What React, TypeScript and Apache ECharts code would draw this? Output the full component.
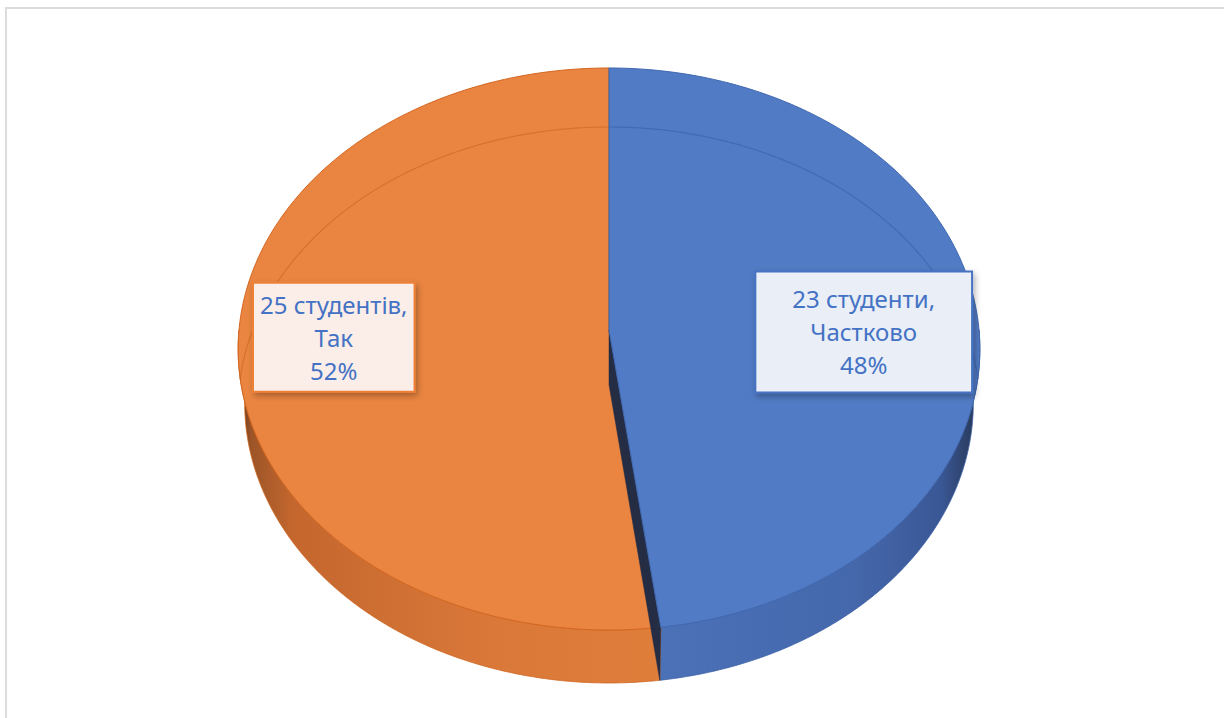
import React, { useEffect, useRef } from "react";
import * as echarts from "echarts";

// ---- data ----
const CATEGORIES = ["Частково", "Так"];
const VALUES = [23, 25];
const NOUNS = ["студенти", "студентів"];

// ---- styles ----
const TOP_COLORS = ["#517BC4", "#EA8541"];
const EDGE_COLORS = ["#3F67B0", "#D2651F"];
const BEVEL_COLORS = ["rgba(52,92,170,0.55)", "rgba(200,92,28,0.5)"];
const SIDE_STOPS = [
  [
    { offset: 0, color: "#4B71B7" },
    { offset: 0.6, color: "#4568AC" },
    { offset: 0.88, color: "#3A5795" },
    { offset: 0.97, color: "#2B3E63" },
    { offset: 1, color: "#23324F" },
  ],
  [
    { offset: 0, color: "#5A3016" },
    { offset: 0.03, color: "#9C5427" },
    { offset: 0.13, color: "#C4672E" },
    { offset: 0.6, color: "#DA7839" },
    { offset: 1, color: "#DF7D3B" },
  ],
];
const SIDE_EDGE = ["#3D62A8", "#CF671F"];
const CUT_COLOR = "#252D45";
const LABEL_FILL = ["#E9EEF7", "#FBEEE8"];
const LABEL_BORDER = ["#4773C2", "#EE8138"];
const LABEL_RADIUS = [0.692, 0.743];
const LABEL_DY = [14.5, -6.5];
const LABEL_PAD = [
  [10, 36],
  [4, 6],
];

// ---- perspective camera ----
const CX = 609;
const CY = 330;
const K = 3589;
const L = 9.7;
const SIN_PHI = 0.756;
const COS_PHI = 0.656;
const HEIGHT = 0.2295;
const BEVEL = 59;

const TOTAL = VALUES.reduce((a, b) => a + b, 0);

function proj(x: number, y: number, z: number): number[] {
  const d = L - y * SIN_PHI - z * COS_PHI;
  return [CX + (K * x) / d, CY - (K * (y * COS_PHI - z * SIN_PHI)) / d];
}

function rim(deg: number, y = 0, r = 1): number[] {
  const t = (deg * Math.PI) / 180;
  return proj(r * Math.sin(t), y, -r * Math.cos(t));
}

function arc(from: number, to: number, y = 0, dy = 0): number[][] {
  const pts: number[][] = [];
  const n = Math.max(2, Math.ceil(Math.abs(to - from) / 0.5));
  for (let k = 0; k <= n; k++) {
    const p = rim(from + ((to - from) * k) / n, y);
    pts.push([p[0], p[1] + dy]);
  }
  return pts;
}

function renderItem(params: any, api: any) {
  const i = params.dataIndex;
  const v = api.value(0) as number;
  let before = 0;
  for (let k = 0; k < i; k++) before += VALUES[k];
  const a0 = (before / TOTAL) * 360;
  const a1 = ((before + v) / TOTAL) * 360;
  const children: any[] = [];

  // cut faces facing the viewer (lower half boundaries)
  const cuts: number[] = [];
  if (a1 > 90 && a1 < 180) cuts.push(a1);
  if (a0 >= 180 && a0 < 270) cuts.push(a0);

  // side wall
  const s0 = Math.max(a0, 90);
  const s1 = Math.min(a1, 270);
  if (s1 > s0) {
    const pts = [...arc(s0, s1), ...arc(s1, s0, -HEIGHT)];
    let minX = Infinity;
    let maxX = -Infinity;
    pts.forEach((p) => {
      minX = Math.min(minX, p[0]);
      maxX = Math.max(maxX, p[0]);
    });
    children.push({
      type: "polygon",
      z2: 0,
      shape: { points: pts },
      style: {
        fill: new echarts.graphic.LinearGradient(minX, 0, maxX, 0, SIDE_STOPS[i], true),
        stroke: SIDE_EDGE[i],
        lineWidth: 0.8,
      },
    });
  }

  cuts.forEach((b) => {
    children.push({
      type: "polygon",
      z2: 3,
      shape: {
        points: [proj(0, 0, 0), rim(b), rim(b, -HEIGHT), proj(0, -HEIGHT, 0)],
      },
      style: { fill: CUT_COLOR, stroke: CUT_COLOR, lineWidth: 0.5 },
    });
  });

  // top face
  const topZ = cuts.length ? 4 : 2;
  children.push({
    type: "polygon",
    z2: topZ,
    shape: { points: [proj(0, 0, 0), ...arc(a0, a1)] },
    style: { fill: TOP_COLORS[i], stroke: EDGE_COLORS[i], lineWidth: 1 },
  });

  // bevel line on the far part
  const ranges: number[][] = [
    [0, 88],
    [272, 360],
  ];
  ranges.forEach(([r0, r1]) => {
    const b0 = Math.max(r0, a0);
    const b1 = Math.min(r1, a1);
    if (b1 > b0) {
      children.push({
        type: "polyline",
        z2: topZ + 0.5,
        shape: { points: arc(b0, b1, 0, BEVEL) },
        style: { fill: null, stroke: BEVEL_COLORS[i], lineWidth: 1.2 },
      });
    }
  });

  // label
  const mid = (a0 + a1) / 2;
  const anchor = rim(mid, 0, LABEL_RADIUS[i]);
  const pct = Math.round((v / TOTAL) * 100);
  children.push({
    type: "text",
    z2: 10,
    style: {
      text: `${v} ${NOUNS[i]},\n${CATEGORIES[i]}\n${pct}%`,
      x: anchor[0],
      y: anchor[1] + LABEL_DY[i],
      align: "center",
      verticalAlign: "middle",
      fill: "#4472C4",
      font: '24px "Noto Sans"',
      lineHeight: 33,
      backgroundColor: LABEL_FILL[i],
      borderColor: LABEL_BORDER[i],
      borderWidth: 2,
      padding: LABEL_PAD[i],
      shadowBlur: 6,
      shadowColor: "rgba(0,0,0,0.3)",
      shadowOffsetX: 2,
      shadowOffsetY: 3,
    },
  });

  return { type: "group", children };
}

export default function App() {
  const ref = useRef<HTMLDivElement>(null);
  useEffect(() => {
    if (!ref.current) return;
    const chart = echarts.init(ref.current, undefined, { renderer: "svg" });
    chart.setOption({
      animation: false,
      backgroundColor: "#ffffff",
      series: [
        {
          type: "custom",
          coordinateSystem: "none",
          renderItem,
          data: VALUES.map((v, i) => ({ name: CATEGORIES[i], value: [v] })),
        },
      ],
    });
    return () => chart.dispose();
  }, []);
  return (
    <div
      style={{
        position: "fixed",
        left: 0,
        top: 0,
        width: 1224,
        height: 718,
        background: "#fff",
        overflow: "hidden",
      }}
    >
      <div ref={ref} style={{ position: "absolute", left: 0, top: 0, width: 1224, height: 718 }} />
      <div
        style={{
          position: "absolute",
          left: 5,
          top: 7,
          width: 1230,
          height: 730,
          borderTop: "2px solid #DCDCDC",
          borderLeft: "2px solid #DCDCDC",
          pointerEvents: "none",
        }}
      />
    </div>
  );
}
